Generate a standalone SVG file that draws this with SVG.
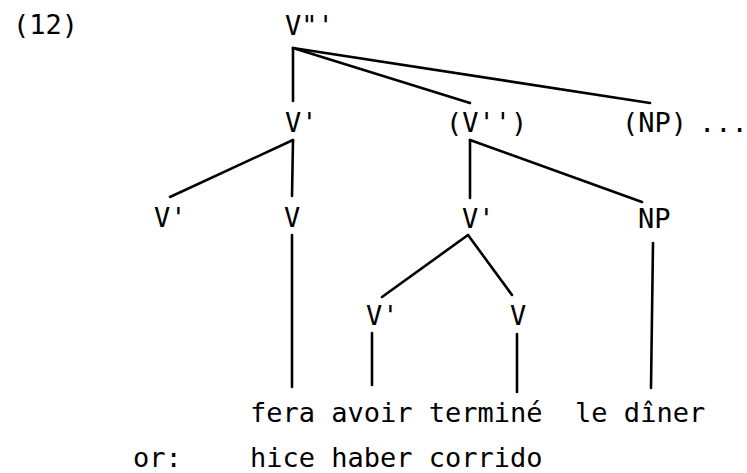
<svg xmlns="http://www.w3.org/2000/svg" width="747" height="473" viewBox="0 0 747 473">
  <style>
    .lbl { font-family: "DejaVu Sans Mono", "Liberation Mono", monospace; font-size: 27px; fill: #000; white-space: pre; }
    .edge { stroke: #000; stroke-width: 2.6; stroke-linecap: round; fill: none; }
  </style>
  <rect width="747" height="473" fill="#fff"/>

  <!-- example number -->
  <text class="lbl" x="13" y="34">(12)</text>

  <!-- tree branches -->
  <g id="connectors">
    <line class="edge" x1="293" y1="48" x2="293" y2="101"/>
    <line class="edge" x1="293" y1="48" x2="470" y2="103"/>
    <line class="edge" x1="293" y1="48" x2="650" y2="103"/>
    <line class="edge" x1="293" y1="140" x2="170" y2="197"/>
    <line class="edge" x1="293" y1="140" x2="292" y2="196"/>
    <line class="edge" x1="292" y1="235" x2="292" y2="387"/>
    <line class="edge" x1="470" y1="140" x2="470" y2="198"/>
    <line class="edge" x1="470" y1="140" x2="642" y2="202"/>
    <line class="edge" x1="468" y1="235" x2="382" y2="297"/>
    <line class="edge" x1="468" y1="235" x2="512" y2="295"/>
    <line class="edge" x1="372" y1="333" x2="372" y2="385"/>
    <line class="edge" x1="517" y1="334" x2="517" y2="392"/>
    <line class="edge" x1="653" y1="243" x2="651" y2="388"/>
  </g>

  <!-- category nodes -->
  <g id="n-root"><text class="lbl" x="285" y="35">V"'</text></g>
  <g id="n-vbar-top"><text class="lbl" x="285" y="132">V'</text></g>
  <g id="n-vpp-opt"><text class="lbl" x="446" y="132">(V'')</text></g>
  <g id="n-np-opt">
    <text class="lbl" x="622" y="132">(NP)</text>
    <text class="lbl" x="699" y="132">...</text>
  </g>
  <g id="n-vbar-left"><text class="lbl" x="154" y="227">V'</text></g>
  <g id="n-v-main"><text class="lbl" x="284" y="227">V</text></g>
  <g id="n-vbar-mid"><text class="lbl" x="462" y="228">V'</text></g>
  <g id="n-np"><text class="lbl" x="638" y="228">NP</text></g>
  <g id="n-vbar-low"><text class="lbl" x="366" y="325">V'</text></g>
  <g id="n-v-low"><text class="lbl" x="510" y="325">V</text></g>

  <!-- terminal strings -->
  <g id="words-fr"><text class="lbl" x="250" y="422">fera avoir terminé  le dîner</text></g>
  <g id="words-es">
    <text class="lbl" x="133" y="467">or:</text>
    <text class="lbl" x="250" y="467">hice haber corrido</text>
  </g>
</svg>
